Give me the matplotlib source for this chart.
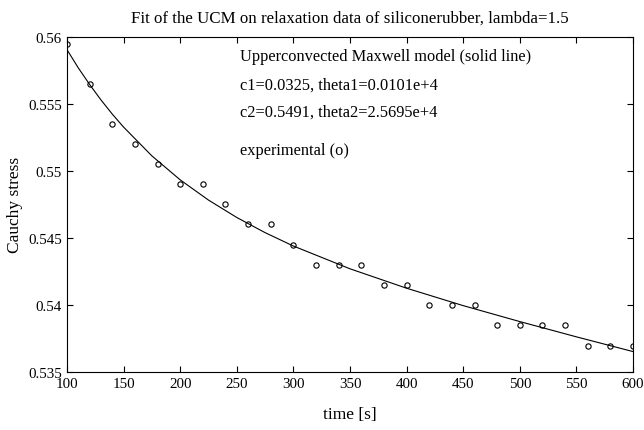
import matplotlib
matplotlib.use('Agg')
from matplotlib import pyplot as plt
from matplotlib.ticker import FuncFormatter

time_s = [100, 120, 140, 160, 180, 200, 220, 240, 260, 280, 300, 320, 340,
          360, 380, 400, 420, 440, 460, 480, 500, 520, 540, 560, 580, 600]
stress = [0.5595, 0.5565, 0.5535, 0.5520, 0.5505, 0.5490, 0.5490, 0.5475,
          0.5460, 0.5460, 0.5445, 0.5430, 0.5430, 0.5430, 0.5415, 0.5415,
          0.5400, 0.5400, 0.5400, 0.5385, 0.5385, 0.5385, 0.5385, 0.5369,
          0.5369, 0.5369]

# UCM fit curve (solid line), read at a few times
fit_t = [100, 110, 120, 130, 140, 150, 175, 200, 225, 250, 275, 300, 350,
         400, 450, 500, 550, 600]
fit_s = [0.55905, 0.55769, 0.55645, 0.55530, 0.55424, 0.55327, 0.55112,
         0.54933, 0.54782, 0.54652, 0.54539, 0.54439, 0.54269, 0.54124,
         0.53994, 0.53875, 0.53761, 0.53651]

notes = ['Upperconvected Maxwell model (solid line)',
         'c1=0.0325, theta1=0.0101e+4',
         'c2=0.5491, theta2=2.5695e+4',
         'experimental (o)']
note_y = [0.5586, 0.55646, 0.5544, 0.55159]

plt.rcParams['font.family'] = ['Liberation Serif', 'DejaVu Serif']

fig = plt.figure(figsize=(6.44, 4.31), dpi=100)
ax = fig.add_axes([0.104, 0.135, 0.879, 0.777])

ax.plot(fit_t, fit_s, 'k-', lw=0.8)
ax.plot(time_s, stress, 'o', mfc='none', mec='k', ms=3.8, mew=0.8)

for txt, y in zip(notes, note_y):
    ax.text(253, y, txt, fontsize=11.8, va='center', ha='left')

ax.set_xlim(100, 600)
ax.set_ylim(0.535, 0.56)
ax.set_xticks(range(100, 601, 50))
ax.set_yticks([0.535, 0.54, 0.545, 0.55, 0.555, 0.56])
ax.yaxis.set_major_formatter(FuncFormatter(lambda v, p: '%g' % round(v, 4)))
ax.tick_params(direction='in', top=True, right=True, length=4, labelsize=10.8)

ax.set_title('Fit of the UCM on relaxation data of siliconerubber, lambda=1.5',
             fontsize=12.2, pad=11)
ax.set_xlabel('time [s]', fontsize=12.5, labelpad=12)
ax.set_ylabel('Cauchy stress', fontsize=12.5, labelpad=4)

fig.savefig('out.png', dpi=100)
